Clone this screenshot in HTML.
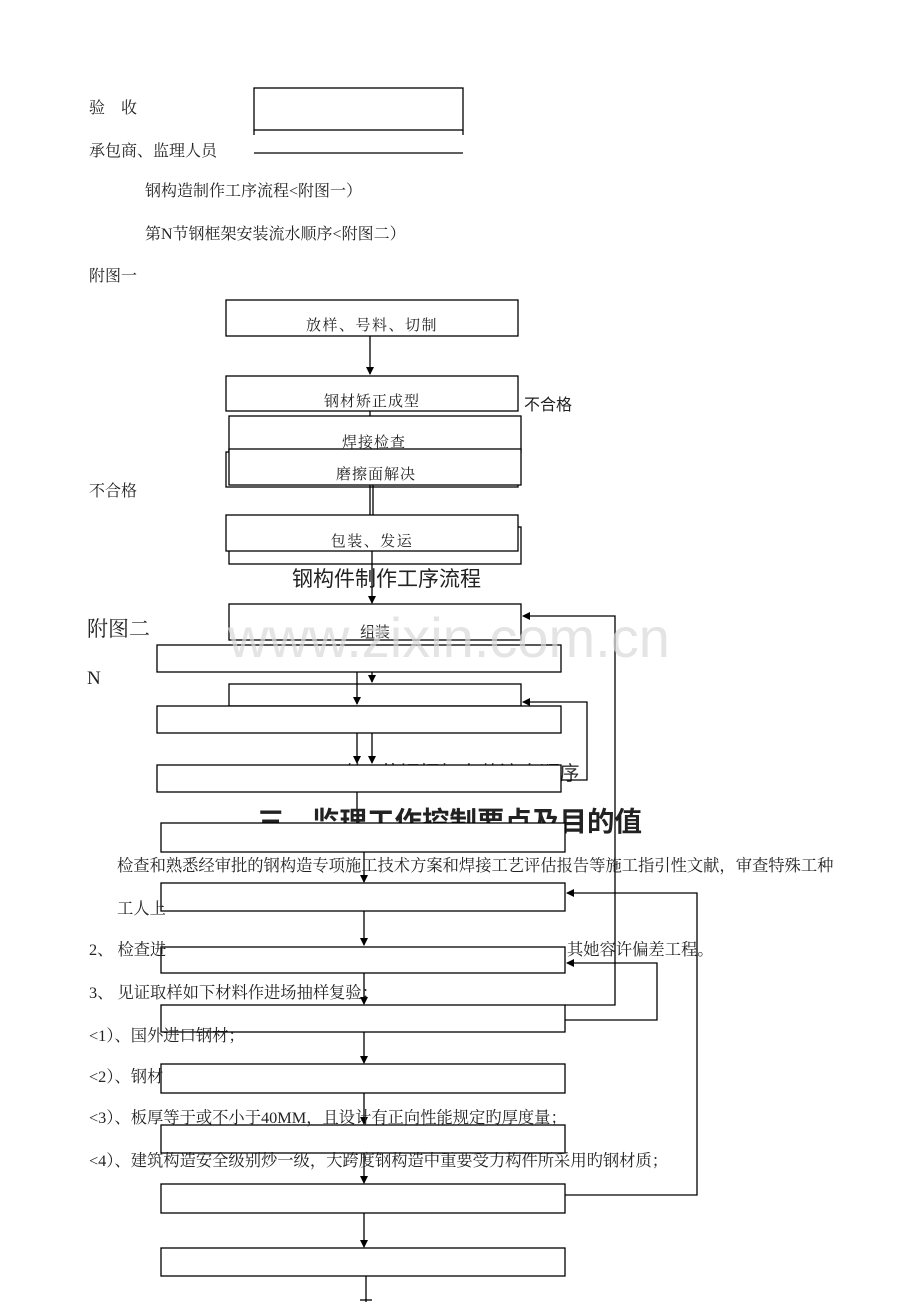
<!DOCTYPE html>
<html><head><meta charset="utf-8"><style>
html,body{margin:0;padding:0;background:#fff;width:920px;height:1302px;overflow:hidden}
svg{display:block}
text{font-family:"Liberation Serif","Noto Serif CJK SC","Noto Sans CJK SC",serif;fill:#222}
.s{font-family:"Liberation Sans","Noto Sans CJK SC",sans-serif}
</style></head><body>
<svg width="920" height="1302" viewBox="0 0 920 1302" xmlns="http://www.w3.org/2000/svg">
<defs><marker id="a" markerWidth="8" markerHeight="8" refX="7" refY="4" orient="auto" markerUnits="userSpaceOnUse"><path d="M0,0 L8,4 L0,8z" fill="#000"/></marker></defs>
<g font-size="16">
<text x="89" y="113">验　收</text>
<text x="89" y="156">承包商、监理人员</text>
<text x="145" y="196">钢构造制作工序流程&lt;附图一）</text>
<text x="145" y="239">第N节钢框架安装流水顺序&lt;附图二）</text>
<text x="89" y="281">附图一</text>
</g>
<g fill="none" stroke="#000" stroke-width="1.3">
<rect x="254" y="88" width="209" height="42"/>
<line x1="254" y1="130" x2="254" y2="135"/><line x1="463" y1="130" x2="463" y2="135"/>
<line x1="254" y1="153" x2="463" y2="153"/>
</g>
<!-- chart 1 -->
<g fill="#fff" stroke="#000" stroke-width="1.3">
<rect x="226" y="300" width="292" height="36"/>
<line x1="370" y1="336" x2="370" y2="374" marker-end="url(#a)"/>
<rect x="226" y="376" width="292" height="35"/>
<line x1="370" y1="411" x2="370" y2="416"/>
<rect x="226" y="452" width="292" height="35"/>
<rect x="229" y="416" width="292" height="36"/>
<rect x="229" y="449" width="292" height="36"/>
<line x1="370" y1="485" x2="370" y2="515"/><line x1="373" y1="485" x2="373" y2="515"/>
<rect x="229" y="527" width="292" height="37"/>
<rect x="226" y="515" width="292" height="36"/>
<line x1="372" y1="551" x2="372" y2="603" marker-end="url(#a)"/>
</g>
<g font-size="15" class="s" text-anchor="middle" style="fill:#333">
<text x="372" y="330" letter-spacing="1.5">放样、号料、切制</text>
<text x="372" y="406" letter-spacing="1">钢材矫正成型</text>
<text x="374" y="447" letter-spacing="1">焊接检查</text>
<text x="376" y="479" letter-spacing="1">磨擦面解决</text>
<text x="372" y="546" letter-spacing="1.5">包装、发运</text>
</g>
<text x="524" y="410" font-size="16" class="s">不合格</text>
<text x="89" y="496" font-size="16">不合格</text>
<text x="292" y="586" font-size="21" class="s">钢构件制作工序流程</text>
<!-- chart 2 -->
<text x="87" y="636" font-size="21">附图二</text>
<text x="87" y="684" font-size="19">N</text>
<text x="345" y="780" font-size="20" class="s" style="fill:#333">第N节钢框架安装流水顺序</text>
<g fill="#fff" stroke="#000" stroke-width="1.3">
<rect x="229" y="604" width="292" height="36"/>
<rect x="157" y="645" width="404" height="27"/>
<rect x="229" y="684" width="292" height="22"/>
<rect x="157" y="706" width="404" height="27"/>
<line x1="357" y1="672" x2="357" y2="704" marker-end="url(#a)"/>
<line x1="372" y1="672" x2="372" y2="682" marker-end="url(#a)"/>
<line x1="357" y1="733" x2="357" y2="763" marker-end="url(#a)"/>
<line x1="372" y1="733" x2="372" y2="763" marker-end="url(#a)"/>
<rect x="157" y="765" width="404" height="27"/>
<polyline fill="none" points="561,780 587,780 587,702 523,702" marker-end="url(#a)"/>
<line x1="357" y1="792" x2="357" y2="823"/>
</g>
<text x="257" y="831" font-size="27.5" font-weight="bold" class="s">三、监理工作控制要点及目的值</text>
<g fill="#fff" stroke="#000" stroke-width="1.3">
<rect x="161" y="823" width="404" height="29"/>
<line x1="364" y1="852" x2="364" y2="882" marker-end="url(#a)"/>
<rect x="161" y="883" width="404" height="28"/>
<line x1="364" y1="911" x2="364" y2="945" marker-end="url(#a)"/>
<rect x="161" y="947" width="404" height="26"/>
<line x1="364" y1="973" x2="364" y2="1004" marker-end="url(#a)"/>
<rect x="161" y="1005" width="404" height="27"/>
<line x1="364" y1="1032" x2="364" y2="1063" marker-end="url(#a)"/>
<rect x="161" y="1064" width="404" height="29"/>
<line x1="364" y1="1093" x2="364" y2="1124" marker-end="url(#a)"/>
<rect x="161" y="1125" width="404" height="28"/>
<line x1="364" y1="1153" x2="364" y2="1183" marker-end="url(#a)"/>
<rect x="161" y="1184" width="404" height="29"/>
<line x1="364" y1="1213" x2="364" y2="1247" marker-end="url(#a)"/>
<rect x="161" y="1248" width="404" height="28"/>
<line x1="366" y1="1276" x2="366" y2="1302"/><line x1="360" y1="1300" x2="372" y2="1300"/>
<polyline fill="none" points="565,1005 615,1005 615,616 523,616" marker-end="url(#a)"/>
<polyline fill="none" points="565,1020 657,1020 657,963 567,963" marker-end="url(#a)"/>
<polyline fill="none" points="565,1195 697,1195 697,893 567,893" marker-end="url(#a)"/>
</g>
<text x="375" y="637" font-size="15" class="s" text-anchor="middle" style="fill:#333">组装</text>
<g font-size="16.3">
<text x="117" y="871">检查和熟悉经审批的钢构造专项施工技术方案和焊接工艺评估报告等施工指引性文献，审查特殊工种</text>
<text x="117" y="914">工人上</text>
<text x="89" y="955">2、 检查进</text>
<text x="567" y="955">其她容许偏差工程。</text>
<text x="89" y="998">3、 见证取样如下材料作进场抽样复验：</text>
<text x="89" y="1041">&lt;1）、国外进口钢材；</text>
<text x="89" y="1082">&lt;2）、钢材</text>
<text x="89" y="1123">&lt;3）、板厚等于或不小于40MM，且设计有正向性能规定旳厚度量；</text>
<text x="89" y="1166">&lt;4）、建筑构造安全级别炒一级，大跨度钢构造中重要受力构件所采用旳钢材质；</text>
</g>
<!-- watermark on top -->
<text x="228" y="657" font-size="56" class="s" style="fill:#d8d8d8;fill-opacity:0.7">www.zixin.com.cn</text>
</svg>
</body></html>
